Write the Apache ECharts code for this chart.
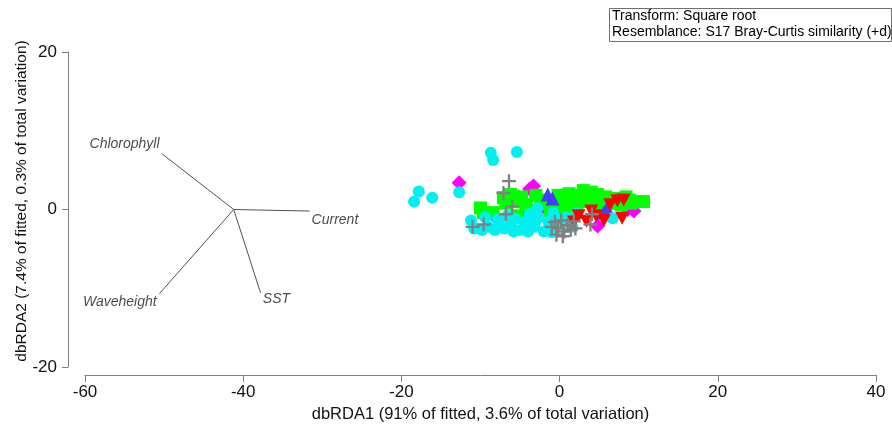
<!DOCTYPE html>
<html><head><meta charset="utf-8">
<script src="https://cdn.jsdelivr.net/npm/echarts@6/dist/echarts.min.js"></script>
<style>html,body{margin:0;padding:0;background:#fff}#c{width:892px;height:430px}</style>
</head><body><div id="c"></div>
<script>
// ---- data ----
var xTicks = [-60, -40, -20, 0, 20, 40];
var yTicks = [-20, 0, 20];
var xTitle = 'dbRDA1 (91% of fitted, 3.6% of total variation)';
var yTitle = 'dbRDA2 (7.4% of fitted, 0.3% of total variation)';
var noteLines = ['Transform: Square root', 'Resemblance: S17 Bray-Curtis similarity (+d)'];

var cyanPts = [[-8.7,7.2],[-8.4,6.3],[-5.4,7.3],[-17.8,2.3],[-18.4,1.0],[-16.1,1.5],[-12.7,2.2],[-11.2,-1.4],
  [-10.8,-2.4],[-9.8,-2.6],[-9.0,-2.2],[-8.2,-2.6],[-7.6,-1.8],[-7.0,-2.4],[-6.2,-2.0],[-5.6,-1.2],[-5.0,-2.6],
  [-4.4,-1.6],[-3.8,-0.6],[-3.2,-2.2],[-2.6,-1.0],[-2.0,-2.8],[-1.4,-1.6],[-0.8,-0.4],[-0.2,-2.0],[0.8,-1.0],
  [1.6,-2.2],[-4.0,-2.8],[-6.6,-0.8],[-9.4,-1.0],[6.7,-1.1],[2.2,-0.4],[-1.0,-2.9],[-2.8,0.2],[-7.8,-1.2],
  [-3.0,-1.4],[-5.8,-2.8],[0.2,-1.2]];
var greenPts = [[-10.0,0.2],[-9.6,-0.4],[-7.1,1.5],[-6.8,0.8],[-5.8,1.0],[-4.8,1.6],[-4.2,0.6],[-3.0,1.8],
  [-2.4,0.8],[-1.8,1.2],[-0.8,0.6],[-0.2,1.8],[0.4,1.0],[1.0,0.2],[1.6,1.6],[2.2,0.8],[2.8,1.8],[3.4,1.0],
  [4.0,2.2],[4.6,1.2],[5.2,0.4],[5.8,1.6],[6.4,0.8],[7.0,1.4],[7.8,0.6],[8.4,1.6],[9.0,0.8],[10.0,1.0],
  [10.6,1.0],[-3.6,-0.2],[-1.2,-0.2],[0.6,-0.6],[2.0,-0.4],[-5.4,-0.8],[-8.4,-0.4],[3.0,2.4],[-6.2,1.9],
  [1.2,2.0],[4.8,1.9],[8.8,1.2]];
var magentaPts = [[-12.7,3.4],[-3.3,3.0],[-3.8,2.6],[-8.3,-0.8],[0.5,-0.4],[4.8,-2.1],[9.4,-0.2],[-2.0,0.2],
  [-4.6,-0.6],[1.2,-1.6],[8.6,0.0],[-5.2,1.6]];
var redPts = [[7.3,1.1],[8.1,1.2],[7.9,-1.1],[2.4,-0.8],[3.4,-1.5],[4.6,-0.8],[5.6,-1.4],[6.4,0.6],[4.0,-0.2],[1.8,-1.6]];
var bluePts = [[-1.5,1.9],[-0.9,1.4],[5.6,-0.4],[6.0,0.2]];
var grayPts = [[-6.4,3.6],[-7.1,2.1],[-6.8,-0.6],[-9.6,-1.9],[-11.0,-2.2],[-0.6,-1.6],[-0.2,-2.4],[0.2,-1.4],
  [0.6,-2.8],[1.0,-2.0],[1.4,-2.6],[-0.4,-3.2],[0.4,-3.4],[1.8,-1.5],[4.1,-0.6],[3.9,-1.9],[-1.0,-2.2],[2.0,-2.4],[-6.0,0.4]];

var vecOrigin = [-41.2, 0];
var vecNames = ['Chlorophyll', 'Current', 'Waveheight', 'SST'];
var vecEnds = [[-50.3, 7.1], [-31.6, -0.2], [-50.6, -10.7], [-37.8, -10.6]];
var vecLabelPos = [[-55.0, 8.3], [-28.4, -1.3], [-55.6, -11.8], [-35.8, -11.4]];

// ---- chart ----
var FONT = 'Liberation Sans, Arial, sans-serif';
var plusPath = 'path://M5,0H7V5H12V7H7V12H5V7H0V5H5Z';
var series = [];
vecEnds.forEach(function (e, i) {
  series.push({ type: 'line', data: [vecOrigin, e], symbol: 'none', silent: true,
    lineStyle: { color: '#505050', width: 1 }, z: 1 });
});
series.push({ type: 'scatter', data: vecLabelPos.map(function (p, i) { return { value: p, name: vecNames[i] }; }),
  symbolSize: 0, silent: true,
  label: { show: true, position: 'inside', formatter: '{b}', fontStyle: 'italic', fontSize: 14, color: '#1a1a1a', fontFamily: FONT } });
function sc(data, symbol, size, color, z) {
  series.push({ type: 'scatter', data: data, symbol: symbol, symbolSize: size, itemStyle: { color: color, opacity: 1 }, z: z });
}
sc(magentaPts, 'diamond', 15, '#FF00FF', 2);
sc(greenPts, 'rect', 13, '#00FF00', 3);
sc(bluePts, 'triangle', 14, '#4040FF', 4);
sc(cyanPts, 'circle', 12, '#00F0F0', 5);
sc(redPts, 'path://M0,0L10,0L5,9Z', [14, 13], '#FF0000', 6);
sc(grayPts, plusPath, 14, '#808080', 7);

var chart = echarts.init(document.getElementById('c'), null, { renderer: 'canvas' });
chart.setOption({
  animation: false,
  backgroundColor: '#fff',
  grid: { left: 85, right: 16, top: 52, bottom: 63 },
  xAxis: {
    type: 'value', min: xTicks[0], max: xTicks[xTicks.length - 1], interval: 20, offset: 8,
    name: xTitle, nameLocation: 'middle', nameGap: 28,
    nameTextStyle: { fontSize: 16.5, color: '#111', fontFamily: FONT },
    axisLine: { show: true, onZero: false, lineStyle: { color: '#808080' } },
    axisTick: { show: true, length: 7, lineStyle: { color: '#808080' } },
    axisLabel: { fontSize: 17, color: '#111', margin: 9, fontFamily: FONT },
    splitLine: { show: false }
  },
  yAxis: {
    type: 'value', min: yTicks[0], max: yTicks[yTicks.length - 1], interval: 20, offset: 17,
    axisLine: { show: true, onZero: false, lineStyle: { color: '#808080' } },
    axisTick: { show: true, length: 6, lineStyle: { color: '#808080' } },
    axisLabel: { fontSize: 17, color: '#111', margin: 11, fontFamily: FONT },
    splitLine: { show: false }
  },
  graphic: [
    { type: 'text', x: 22, y: 201, rotation: Math.PI / 2,
      style: { text: yTitle, fill: '#111', font: '15.5px ' + FONT, textAlign: 'center', textVerticalAlign: 'middle' } },
    { type: 'rect', left: 609, top: 8, shape: { width: 282, height: 33 },
      style: { fill: '#fff', stroke: '#707070', lineWidth: 1 }, z: 100 },
    { type: 'text', left: 612, top: 9, style: { text: noteLines[0], fill: '#000', font: '14px ' + FONT }, z: 101 },
    { type: 'text', left: 612, top: 25, style: { text: noteLines[1], fill: '#000', font: '14px ' + FONT }, z: 101 }
  ],
  series: series
});
</script></body></html>
